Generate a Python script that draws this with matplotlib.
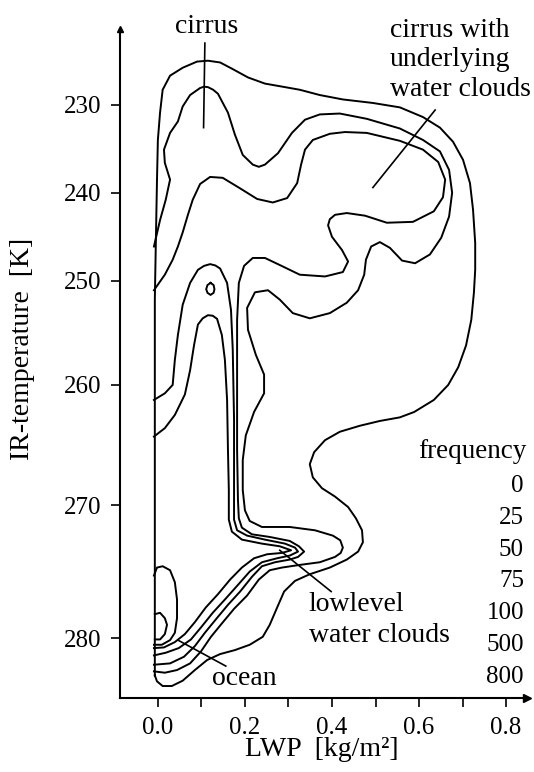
import numpy as np
import matplotlib.pyplot as plt

plt.rcParams['font.family'] = ['Liberation Serif', 'DejaVu Serif']

# frequency levels of the contours
levels = [0, 25, 50, 75, 100, 500, 800]

# the IR-temperature axis is not linear: tick values and the spacing between them
t_knots = [210, 220, 230, 240, 250, 260, 270, 280, 290, 300]
t_step = [0, 88, 88, 88, 88, 104, 120, 133, 133, 133]
u_knots = np.cumsum(t_step)

# contour lines: (LWP [kg/m2], IR temperature [K])
c0 = np.array([
    (-0.007, 282.8), (-0.007, 277.1), (-0.007, 269.6), (-0.007, 261.25), (-0.007, 251.8),
    (-0.005, 246.5), (-0.002, 238.5), (0.000, 234.0), (0.005, 230.9), (0.011, 228.3),
    (0.028, 226.7), (0.057, 225.8), (0.090, 225.1), (0.115, 225.0), (0.143, 225.2),
    (0.170, 225.9), (0.207, 226.9), (0.246, 227.6), (0.292, 228.0), (0.326, 228.3),
    (0.372, 228.9), (0.425, 229.4), (0.494, 229.8), (0.556, 230.3), (0.609, 231.4),
    (0.648, 232.6), (0.678, 234.2), (0.701, 236.25), (0.717, 238.9), (0.724, 241.9),
    (0.729, 245.7), (0.729, 248.75), (0.726, 251.15), (0.720, 253.75), (0.708, 256.2),
    (0.690, 258.3), (0.667, 260.0), (0.634, 261.25), (0.589, 262.25), (0.556, 262.7),
    (0.510, 263.0), (0.464, 263.4), (0.418, 263.9), (0.384, 264.6), (0.359, 265.6),
    (0.349, 266.6), (0.356, 267.7), (0.377, 268.6), (0.407, 269.3), (0.437, 270.15),
    (0.455, 271.0), (0.469, 271.9), (0.471, 272.8), (0.460, 273.5), (0.434, 274.1),
    (0.395, 274.7), (0.349, 275.2), (0.315, 275.7), (0.290, 276.5), (0.274, 277.7),
    (0.257, 279.0), (0.241, 279.9), (0.211, 280.5), (0.177, 280.9), (0.143, 281.2),
    (0.113, 281.65), (0.085, 282.4), (0.057, 283.2), (0.032, 283.6), (0.011, 283.6),
    (-0.002, 283.25), (-0.007, 282.8)])

c25 = np.array([
    (-0.009, 246.1), (0.005, 243.1), (0.018, 240.8), (0.028, 238.5), (0.016, 236.6),
    (0.014, 235.1), (0.028, 233.2), (0.046, 231.9), (0.057, 230.2), (0.074, 228.9),
    (0.097, 228.1), (0.106, 227.95), (0.115, 228.0), (0.127, 228.3), (0.138, 228.75),
    (0.161, 230.9), (0.177, 233.4),
    (0.195, 235.7), (0.218, 236.8), (0.232, 237.05), (0.246, 236.8), (0.276, 235.5),
    (0.308, 233.2),
    (0.338, 231.7), (0.372, 231.1), (0.418, 231.0), (0.480, 231.6), (0.556, 232.7),
    (0.609, 234.0), (0.648, 235.3), (0.669, 237.4), (0.676, 240.0), (0.669, 242.7),
    (0.651, 245.1), (0.625, 247.0), (0.591, 248.0), (0.561, 247.7), (0.533, 246.25),
    (0.510, 245.6), (0.490, 246.1), (0.478, 247.6), (0.474, 249.3), (0.460, 250.9),
    (0.434, 252.1), (0.395, 253.1), (0.349, 253.6), (0.310, 253.1), (0.280, 251.8),
    (0.253, 250.9), (0.223, 251.1), (0.205, 252.6), (0.207, 254.7), (0.225, 257.1),
    (0.244, 259.0), (0.244, 260.7), (0.221, 262.25), (0.202, 264.2), (0.195, 266.25),
    (0.195, 268.75), (0.200, 270.4), (0.211, 271.2), (0.239, 271.65), (0.303, 271.65),
    (0.361, 271.9), (0.402, 272.3), (0.419, 272.65), (0.425, 273.2), (0.420, 273.6),
    (0.407, 273.9), (0.372, 274.3),
    (0.326, 274.5), (0.285, 274.7), (0.257, 274.9), (0.232, 275.6), (0.205, 276.8),
    (0.175, 277.8), (0.147, 278.9), (0.122, 279.9), (0.099, 281.0), (0.074, 281.9),
    (0.044, 282.4), (0.016, 282.6), (-0.009, 282.5)])

c50 = np.array([
    (-0.009, 250.9), (0.016, 249.3), (0.034, 247.6), (0.046, 246.1), (0.057, 244.5),
    (0.069, 242.5), (0.080, 240.8), (0.097, 239.0), (0.120, 238.2), (0.149, 238.3),
    (0.189, 239.5), (0.228, 240.7), (0.264, 241.1), (0.297, 240.6), (0.320, 238.9),
    (0.329, 236.8), (0.338, 235.1), (0.356, 234.0), (0.395, 233.3), (0.430, 233.1),
    (0.480, 233.2), (0.556, 234.1), (0.609, 235.1), (0.644, 236.5), (0.660, 238.5),
    (0.655, 240.5), (0.634, 242.1), (0.586, 243.3), (0.526, 243.4), (0.476, 242.6),
    (0.434, 242.3), (0.407, 242.5), (0.395, 243.0), (0.391, 243.7), (0.400, 245.0),
    (0.423, 246.5),
    (0.437, 247.8), (0.425, 249.0), (0.384, 249.5), (0.326, 249.3), (0.280, 248.2),
    (0.246, 247.4), (0.218, 247.4), (0.198, 248.3), (0.186, 250.2), (0.182, 253.75),
    (0.182, 259.5), (0.182, 265.4), (0.184, 269.6), (0.186, 271.0), (0.193, 271.7),
    (0.216, 272.2), (0.257, 272.4), (0.303, 272.7), (0.324, 273.1), (0.336, 273.5),
    (0.322, 273.9), (0.303, 274.1), (0.269, 274.3), (0.239, 274.6), (0.216, 275.4),
    (0.189, 276.5), (0.161, 277.5), (0.133, 278.6), (0.108, 279.6), (0.085, 280.6),
    (0.060, 281.4), (0.028, 281.9), (-0.009, 282.0)])

c75 = np.array([
    (-0.009, 261.25), (0.016, 260.7), (0.034, 260.0), (0.039, 257.6), (0.046, 255.2),
    (0.057, 252.3), (0.074, 250.2), (0.092, 248.75), (0.106, 248.3), (0.120, 248.1),
    (0.132, 248.25), (0.143, 248.6),
    (0.159, 250.2), (0.168, 252.8), (0.172, 256.6), (0.175, 262.9), (0.175, 268.75),
    (0.175, 271.1), (0.182, 271.9), (0.205, 272.3), (0.246, 272.6), (0.292, 272.9),
    (0.315, 273.2), (0.322, 273.5), (0.303, 273.8), (0.274, 274.0), (0.239, 274.3),
    (0.211, 275.0), (0.184, 276.0), (0.154, 277.1), (0.126, 278.1), (0.099, 279.2),
    (0.076, 280.1), (0.048, 280.75), (0.018, 281.1), (-0.009, 281.3)])

c100 = np.array([
    (-0.009, 264.3), (0.016, 263.6), (0.039, 262.5), (0.062, 260.8), (0.074, 258.6),
    (0.083, 256.2), (0.092, 254.2), (0.103, 253.6), (0.115, 253.3), (0.126, 253.35),
    (0.136, 253.65), (0.147, 255.2),
    (0.154, 257.6), (0.159, 261.25), (0.161, 265.4), (0.163, 268.75), (0.163, 271.1),
    (0.170, 272.0), (0.193, 272.6), (0.239, 272.9), (0.280, 273.1), (0.306, 273.4),
    (0.285, 273.6), (0.251, 273.7), (0.221, 274.0), (0.193, 274.7), (0.166, 275.6),
    (0.138, 276.7), (0.110, 277.7), (0.085, 278.8), (0.062, 279.7), (0.039, 280.3),
    (0.014, 280.7), (-0.009, 280.75)])

c100_island = np.array([
    (0.121, 250.2), (0.128, 250.4), (0.130, 250.8), (0.128, 251.15), (0.121, 251.35),
    (0.114, 251.15), (0.111, 250.8), (0.114, 250.4), (0.121, 250.2)])

c500 = np.array([
    (-0.009, 275.3), (-0.002, 274.7), (0.011, 274.6), (0.028, 274.9), (0.039, 275.8),
    (0.044, 277.1), (0.044, 278.5), (0.039, 279.6), (0.028, 280.15), (0.009, 280.5),
    (-0.009, 280.5)])

c800 = np.array([
    (-0.007, 278.2), (0.005, 278.1), (0.016, 278.5), (0.021, 279.0), (0.016, 279.7),
    (0.005, 280.1), (-0.007, 280.1)])

contours = [c0, c25, c50, c75, c100, c100_island, c500, c800]

# labels with their leader lines (leader from -> to)
labels = [
    (['cirrus'], 0.113, [221.8], 'center', [(0.108, 223.0), (0.105, 232.6)]),
    (['cirrus with', 'underlying', 'water clouds'], 0.533, [222.3, 225.6, 229.0], 'left',
     [(0.637, 230.6), (0.494, 239.4)]),
    (['lowlevel', 'water clouds'], 0.347, [278.0, 280.3], 'left',
     [(0.398, 276.5), (0.280, 273.4)]),
    (['ocean'], 0.199, [283.5], 'center', [(0.156, 282.1), (0.046, 280.15)]),
]


def fwd(t):
    return np.interp(t, t_knots, u_knots)


def inv(u):
    return np.interp(u, u_knots, t_knots)


fig = plt.figure(figsize=(5.34, 7.72), dpi=100)
ax = fig.add_axes([120 / 534, 1 - 698 / 772, 407 / 534, 669 / 772])

for c in contours:
    ax.plot(c[:, 0], c[:, 1], color='k', lw=1.4, solid_joinstyle='round')

for lines, x, ys, ha, lead in labels:
    for s, y in zip(lines, ys):
        ax.text(x, y, s, ha=ha, va='baseline', fontsize=20)
    ax.plot([lead[0][0], lead[1][0]], [lead[0][1], lead[1][1]], color='k', lw=1.2)

ax.set_yscale('function', functions=(fwd, inv))
ax.set_xlim(-0.087, 0.848)
ax.set_ylim(284.5, 221.4)
ax.set_yticks([230, 240, 250, 260, 270, 280])
ax.set_xticks([0.0, 0.2, 0.4, 0.6, 0.8])
ax.set_xticklabels(['%.1f' % v for v in [0.0, 0.2, 0.4, 0.6, 0.8]])
ax.set_xticks([0.1, 0.3, 0.5, 0.7], minor=True)
ax.yaxis.set_minor_locator(plt.NullLocator())
ax.tick_params(which='both', direction='out', length=6.5, width=1.2, labelsize=18, pad=7)

for side in ['top', 'right']:
    ax.spines[side].set_visible(False)
for side in ['left', 'bottom']:
    ax.spines[side].set_linewidth(1.5)
ax.plot(0, 1, marker='^', color='k', ms=5, transform=ax.transAxes, clip_on=False)
ax.plot(1, 0, marker='>', color='k', ms=6, transform=ax.transAxes, clip_on=False)

# frequency key
ax.text(1.0, 0.3587, 'frequency', ha='right', va='baseline', fontsize=19.5, transform=ax.transAxes)
for i, lev in enumerate(levels):
    ax.text(0.9926, 0.308 - i * 0.0475, str(lev), ha='right', va='baseline',
            fontsize=18, transform=ax.transAxes)

fig.text(23 / 534, 1 - 349 / 772, 'IR-temperature  [K]', rotation=90, ha='center',
         va='center', fontsize=20)
fig.text(322 / 534, 1 - 750 / 772, 'LWP  [kg/m\u00b2]', ha='center', va='center', fontsize=20)

fig.savefig('out.png', dpi=100, facecolor='white')
